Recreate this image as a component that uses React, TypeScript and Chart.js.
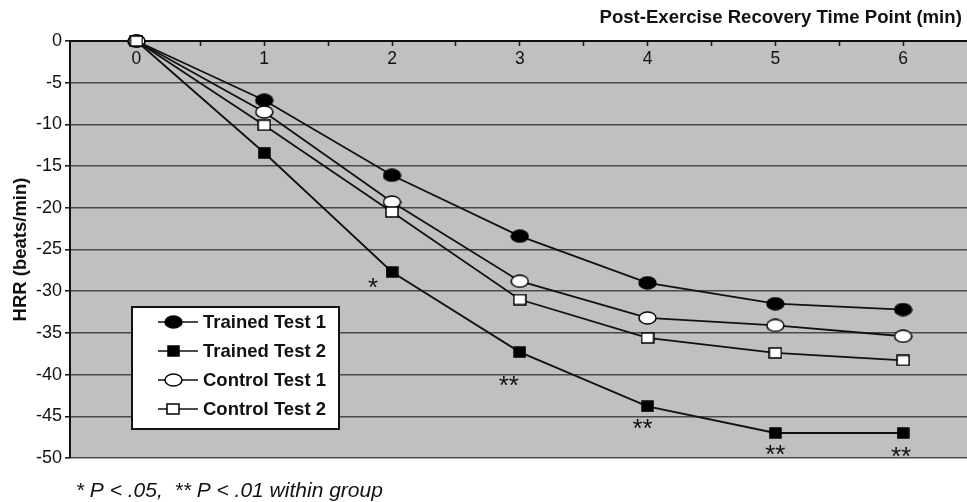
import React, { useEffect, useRef } from 'react';
import { Chart, registerables } from 'chart.js';

Chart.register(...registerables);

// ---------- data ----------
const timePoints = [0, 1, 2, 3, 4, 5, 6];
const seriesNames = ['Trained Test 1', 'Trained Test 2', 'Control Test 1', 'Control Test 2'];
const trainedTest1 = [0, -7.1, -16.1, -23.4, -29.0, -31.5, -32.2];
const trainedTest2 = [0, -13.4, -27.7, -37.3, -43.8, -47.0, -47.0];
const controlTest1 = [0, -8.5, -19.3, -28.8, -33.2, -34.1, -35.4];
const controlTest2 = [0, -10.1, -20.5, -31.0, -35.6, -37.4, -38.3];
const yTickValues = [0, -5, -10, -15, -20, -25, -30, -35, -40, -45, -50];
const sigMarks = ['', '', '*', '**', '**', '**', '**']; // significance for Trained Test 2
const xTitle = 'Post-Exercise Recovery Time Point (min)';
const yTitle = 'HRR (beats/min)';
const footnote = '* P < .05,  ** P < .01 within group';

// ---------- styles ----------
const FONT = "'Liberation Sans', Arial, Helvetica, sans-serif";
const sigOffsets = [[0, 0], [0, 0], [-19, 12], [-11, 30], [-5, 19], [0, 18], [-2, 20]];

function makeMarker(shape: 'ellipse' | 'rect', filled: boolean, w: number, h: number) {
  const c = document.createElement('canvas');
  c.width = w;
  c.height = h;
  const ctx = c.getContext('2d')!;
  ctx.fillStyle = filled ? '#000' : '#fff';
  ctx.strokeStyle = '#000';
  ctx.lineWidth = 1.5;
  if (shape === 'ellipse') {
    ctx.beginPath();
    ctx.ellipse(w / 2, h / 2, w / 2 - 1, h / 2 - 1, 0, 0, Math.PI * 2);
    ctx.fill();
    ctx.stroke();
  } else {
    ctx.fillRect(1, 1, w - 2, h - 2);
    ctx.strokeRect(1, 1, w - 2, h - 2);
  }
  return c;
}

export default function App() {
  const ref = useRef<HTMLCanvasElement | null>(null);

  useEffect(() => {
    if (!ref.current) return;
    const markers = [
      makeMarker('ellipse', true, 19, 14),
      makeMarker('rect', true, 13, 12),
      makeMarker('ellipse', false, 19, 14),
      makeMarker('rect', false, 14, 12),
    ];
    const seriesValues = [trainedTest1, trainedTest2, controlTest1, controlTest2];
    const orders = [3, 2, 1, 0];
    const halfTicks: number[] = [];
    for (let i = 0; i < timePoints.length; i++) {
      halfTicks.push(timePoints[i]);
      if (i < timePoints.length - 1) halfTicks.push((timePoints[i] + timePoints[i + 1]) / 2);
    }

    const bgPlugin = {
      id: 'plotBg',
      beforeDraw(chart: any) {
        const { ctx, chartArea } = chart;
        ctx.save();
        ctx.fillStyle = '#c0c0c0';
        ctx.fillRect(chartArea.left, chartArea.top, chartArea.right - chartArea.left, chartArea.bottom - chartArea.top);
        ctx.restore();
      },
    };

    const overlayPlugin = {
      id: 'overlay',
      afterDatasetsDraw(chart: any) {
        const { ctx, chartArea } = chart;
        ctx.save();
        // significance marks
        const meta = chart.getDatasetMeta(1);
        ctx.fillStyle = '#111';
        const sz = 26;
        ctx.font = `${sz}px ${FONT}`;
        ctx.textAlign = 'center';
        ctx.textBaseline = 'alphabetic';
        sigMarks.forEach((m, i) => {
          if (!m) return;
          const p = meta.data[i];
          const [dx, dy] = sigOffsets[i];
          ctx.fillText(m, p.x + dx, p.y + dy + sz * 0.57 - 3);
        });
        // legend box
        const lx = chartArea.left + 62;
        const ly = chartArea.top + 266;
        const lw = 207;
        const lh = 122;
        ctx.fillStyle = '#fff';
        ctx.fillRect(lx, ly, lw, lh);
        ctx.strokeStyle = '#111';
        ctx.lineWidth = 2;
        ctx.strokeRect(lx, ly, lw, lh);
        ctx.font = `bold 18.5px ${FONT}`;
        ctx.textAlign = 'left';
        ctx.textBaseline = 'middle';
        seriesNames.forEach((name, i) => {
          const cy = ly + 15 + i * 29;
          ctx.strokeStyle = '#111';
          ctx.lineWidth = 1.5;
          ctx.beginPath();
          ctx.moveTo(lx + 26, cy);
          ctx.lineTo(lx + 66, cy);
          ctx.stroke();
          const mk = markers[i];
          ctx.drawImage(mk, Math.round(lx + 41 - mk.width / 2), Math.round(cy - mk.height / 2));
          ctx.fillStyle = '#111';
          ctx.fillText(name, lx + 71, cy + 1);
        });
        ctx.restore();
      },
    };

    const chart = new Chart(ref.current, {
      type: 'line',
      data: {
        datasets: seriesNames.map((name, k) => ({
          label: name,
          data: timePoints.map((t, i) => ({ x: t, y: seriesValues[k][i] })),
          borderColor: '#111',
          borderWidth: 1.8,
          backgroundColor: '#111',
          pointStyle: markers[k] as any,
          pointRadius: 8,
          pointHoverRadius: 8,
          tension: 0,
          fill: false,
          clip: false as any,
          order: orders[k],
        })),
      },
      options: {
        animation: false,
        responsive: false,
        events: [],
        layout: { padding: 0, autoPadding: false },
        scales: {
          x: {
            type: 'linear',
            min: -0.52,
            max: 6.5,
            position: { y: 0 } as any,
            afterBuildTicks: (s: any) => {
              s.ticks = halfTicks.map((v) => ({ value: v }));
            },
            afterFit: (s: any) => {
              s.paddingLeft = 0;
              s.paddingRight = 0;
            },
            ticks: {
              autoSkip: false,
              maxRotation: 0,
              padding: 4,
              color: '#111',
              font: { size: 17.5, family: FONT },
              callback: (v: any) => (Number.isInteger(v) ? String(v) : ''),
            },
            grid: {
              drawOnChartArea: false,
              drawTicks: true,
              tickLength: 4,
              tickColor: '#111',
              tickWidth: 1.5,
            },
            border: { display: true, color: '#111', width: 2 },
          },
          y: {
            type: 'linear',
            min: -50,
            max: 0,
            position: 'left',
            afterFit: (s: any) => {
              s.width = 70;
            },
            afterBuildTicks: (s: any) => {
              s.ticks = yTickValues.map((v) => ({ value: v }));
            },
            ticks: {
              padding: 3,
              color: '#111',
              font: { size: 18, family: FONT },
            },
            grid: {
              color: '#4a4a4a',
              lineWidth: 1.6,
              drawTicks: true,
              tickLength: 5,
              tickColor: '#111',
              tickWidth: 1.5,
            },
            border: { display: true, color: '#111', width: 2 },
            title: {
              display: true,
              text: yTitle,
              color: '#111',
              font: { size: 18.5, weight: 'bold', family: FONT },
              padding: { top: 10, bottom: 0 },
            },
          },
        },
        plugins: {
          legend: { display: false },
          tooltip: { enabled: false },
          title: {
            display: true,
            text: xTitle + ' ',
            align: 'end',
            color: '#111',
            font: { size: 18.6, weight: 'bold', family: FONT },
            padding: { top: 7, bottom: 11.7 },
          },
          subtitle: {
            display: true,
            position: 'bottom',
            align: 'start',
            fullSize: false,
            text: ' ' + footnote,
            color: '#111',
            font: { size: 21, style: 'italic', lineHeight: 1, family: FONT },
            padding: { top: 23, bottom: 0 },
          },
        },
      },
      plugins: [bgPlugin, overlayPlugin],
    });
    return () => chart.destroy();
  }, []);

  return (
    <div style={{ position: 'absolute', left: 0, top: 0, width: 967, height: 502, background: '#fff' }}>
      <canvas ref={ref} width={967} height={502} />
    </div>
  );
}
